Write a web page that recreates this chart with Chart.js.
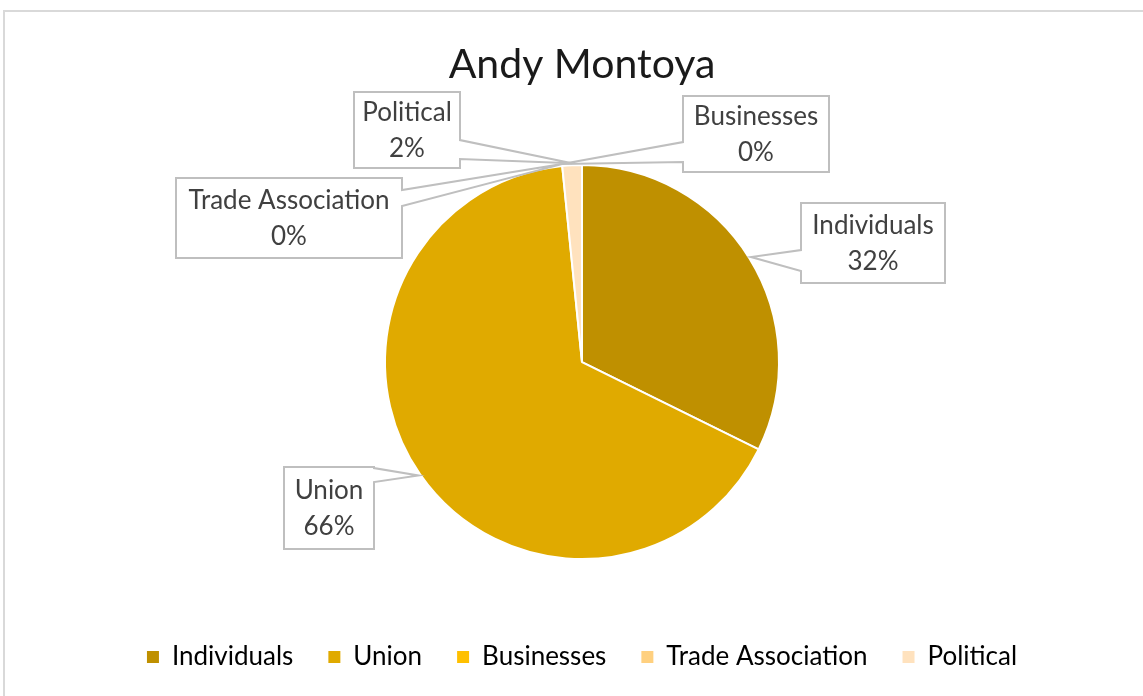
<!DOCTYPE html>
<html>
<head>
<meta charset="utf-8">
<script src="https://cdn.jsdelivr.net/npm/chart.js@4.4.0/dist/chart.umd.min.js"></script>
<style>
  html, body { margin: 0; padding: 0; background: #fff; }
  #frame { position: absolute; left: 3px; top: 10px; width: 1160px; height: 700px; border: 2px solid #d9d9d9; }
  #wrap { position: absolute; left: 0; top: 0; width: 1143px; height: 696px; }
</style>
</head>
<body>
<div id="frame"></div>
<div id="wrap"><canvas id="pie-chart" width="1143" height="696"></canvas></div>
<script>
// chart data
const categories = ["Individuals", "Union", "Businesses", "Trade Association", "Political"];
const shares = [32.3, 66.1, 0, 0, 1.6];
const sliceColors = ["#BF9000", "#E0AA00", "#FFC000", "#FFD07F", "#FFE2BE"];

const FONT = "Lato, 'Open Sans', sans-serif";

// callout boxes, placed relative to the pie centre (dx, dy, w, h),
// wedge on one side between two offsets from the box top
const callouts = [
  { dx: 219, dy: -159, w: 144, h: 80, side: "left", a: 47, b: 68 },
  { dx: -298, dy: 105, w: 90, h: 82, side: "right", a: 1, b: 15 },
  { dx: 101, dy: -266, w: 146, h: 76, side: "left", a: 46, b: 66 },
  { dx: -406, dy: -184, w: 226, h: 80, side: "right", a: 12, b: 28 },
  { dx: -228, dy: -270, w: 106, h: 76, side: "right", a: 48, b: 67 },
];

const calloutPlugin = {
  id: "callouts",
  afterDatasetsDraw(chart) {
    const ctx = chart.ctx;
    const arcs = chart.getDatasetMeta(0).data;
    const total = shares.reduce((s, v) => s + v, 0);
    arcs.forEach((arc, i) => {
      const c = callouts[i];
      const mid = (arc.startAngle + arc.endAngle) / 2;
      const tipX = arc.x + Math.cos(mid) * (arc.outerRadius + 2);
      const tipY = arc.y + Math.sin(mid) * (arc.outerRadius + 2);
      const x = arc.x + c.dx, y = arc.y + c.dy;
      const r = x + c.w, btm = y + c.h;

      ctx.save();
      ctx.beginPath();
      if (c.side === "right") {
        ctx.moveTo(x, y);
        ctx.lineTo(r, y);
        ctx.lineTo(r, y + c.a);
        ctx.lineTo(tipX, tipY);
        ctx.lineTo(r, y + c.b);
        ctx.lineTo(r, btm);
        ctx.lineTo(x, btm);
      } else {
        ctx.moveTo(x, y);
        ctx.lineTo(r, y);
        ctx.lineTo(r, btm);
        ctx.lineTo(x, btm);
        ctx.lineTo(x, y + c.b);
        ctx.lineTo(tipX, tipY);
        ctx.lineTo(x, y + c.a);
      }
      ctx.closePath();
      ctx.fillStyle = "#ffffff";
      ctx.fill();
      ctx.lineWidth = 2;
      ctx.strokeStyle = "#bfbfbf";
      ctx.lineJoin = "miter";
      ctx.stroke();

      const pct = Math.round(shares[i] / total * 100) + "%";
      ctx.fillStyle = "#404040";
      ctx.font = "26px " + FONT;
      ctx.textAlign = "center";
      ctx.textBaseline = "middle";
      const cx = x + c.w / 2;
      ctx.fillText(categories[i], cx, y + c.h / 2 - 17);
      ctx.fillText(pct, cx, y + c.h / 2 + 19);
      ctx.restore();
    });
  }
};

new Chart(document.getElementById("pie-chart").getContext("2d"), {
  type: "pie",
  data: {
    labels: categories,
    datasets: [{
      data: shares,
      backgroundColor: sliceColors,
      borderColor: "#ffffff",
      borderWidth: 2,
    }],
  },
  options: {
    responsive: false,
    animation: false,
    radius: 197,
    layout: { padding: { left: 21, right: 0, top: 0, bottom: 16 } },
    plugins: {
      title: {
        display: true,
        text: "Andy Montoya",
        color: "#1a1a1a",
        font: { family: FONT, size: 41, weight: "normal", lineHeight: 1.2 },
        padding: { top: 40, bottom: 26 },
      },
      legend: {
        display: true,
        position: "bottom",
        labels: {
          boxWidth: 12,
          boxHeight: 12,
          padding: 35,
          color: "#404040",
          font: { family: FONT, size: 26 },
          generateLabels: () => categories.map((name, i) => ({
            text: name,
            fillStyle: sliceColors[i],
            strokeStyle: sliceColors[i],
            lineWidth: 0,
            hidden: false,
            index: i,
          })),
        },
      },
      tooltip: { enabled: false },
    },
  },
  plugins: [calloutPlugin],
});
</script>
</body>
</html>
